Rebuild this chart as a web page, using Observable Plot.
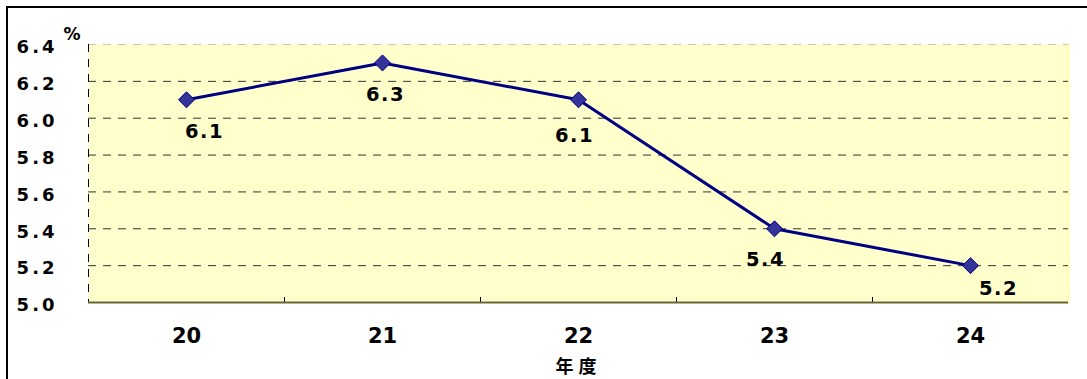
<!DOCTYPE html>
<html>
<head>
<meta charset="utf-8">
<script src="https://cdn.jsdelivr.net/npm/d3@7"></script>
<script src="https://cdn.jsdelivr.net/npm/@observablehq/plot@0.6"></script>
<style>
  html, body { margin: 0; padding: 0; background: #fff; }
  #wrap { position: relative; width: 1087px; height: 379px; overflow: hidden; }
  #border { position: absolute; left: 6px; top: 6px; width: 1100px; height: 400px;
            border-left: 2px solid #000; border-top: 2px solid #000; box-sizing: border-box; pointer-events: none; }
  #chart { position: absolute; left: 0; top: 0; }
</style>
</head>
<body>
<div id="wrap"><div id="chart"></div><div id="border"></div></div>
<script>
// Data
const years = [20, 21, 22, 23, 24];
const values = [6.1, 6.3, 6.1, 5.4, 5.2];
const yTicks = [5.0, 5.2, 5.4, 5.6, 5.8, 6.0, 6.2, 6.4];
const xTitle = "年度";
const yUnit = "%";

// label placement (style only)
const labelOffsets = [[18, 32], [3, 32], [-4, 36], [-9, 31], [28, 23]];

const rows = years.map((y, i) => ({year: y, value: values[i]}));
const bounds = [...years.map(y => y - 0.5), years[years.length - 1] + 0.5];

const numFont = "DejaVu Sans, Liberation Sans, sans-serif";
const textStyle = {fontFamily: numFont, fontWeight: "bold", fill: "#000"};

const plot = Plot.plot({
  width: 1087,
  height: 379,
  marginLeft: 88,
  marginRight: 19,
  marginTop: 44,
  marginBottom: 77,
  style: {fontFamily: numFont, background: "transparent", overflow: "visible"},
  x: {type: "linear", domain: [bounds[0], bounds[bounds.length - 1]]},
  y: {domain: [5.0, 6.4]},
  marks: [
    Plot.frame({fill: "#FFFFCC", stroke: "none"}),
    Plot.frame({anchor: "right", stroke: "#FFFF99", strokeWidth: 1.5}),
    Plot.ruleY(yTicks.slice(1, -1), {stroke: "#333", strokeWidth: 1, strokeDasharray: "8,7"}),
    Plot.ruleY([yTicks[yTicks.length - 1]], {stroke: "#c8c8b0", strokeWidth: 1, strokeDasharray: "8,7"}),
    Plot.ruleX([bounds[0]], {stroke: "#000", strokeWidth: 1, strokeDasharray: "8,7"}),
    Plot.tickX(bounds.slice(1, -1), {stroke: "#000", strokeWidth: 1, insetTop: 253}),
    Plot.ruleY([yTicks[0]], {stroke: "#666633", strokeWidth: 2}),
    Plot.axisY({ticks: yTicks, tickSize: 0, tickPadding: 31, dy: 3, tickFormat: d3.format(".1f"),
      fontSize: 18, fontWeight: "bold", fontFamily: numFont, label: null}),
    Plot.axisX({ticks: years, tickSize: 0, tickPadding: 26, tickFormat: d => String(d),
      fontSize: 21, fontWeight: "bold", fontFamily: numFont, label: null}),
    Plot.text([yUnit], {frameAnchor: "top-left", dx: -25, dy: -17, ...textStyle, fontSize: 17}),
    Plot.text([xTitle], {frameAnchor: "bottom", dy: 70, fontFamily: "Noto Sans CJK JP, sans-serif",
      fontWeight: "bold", fill: "#000", fontSize: 18}),
    Plot.line(rows, {x: "year", y: "value", stroke: "#000080", strokeWidth: 3}),
    Plot.dot(rows, {x: "year", y: "value", symbol: "diamond2", r: 7.2, fill: "#333399", stroke: "#000080", strokeWidth: 1}),
    ...rows.map((r, i) => Plot.text([r], {x: "year", y: "value", text: d => d3.format(".1f")(d.value),
      dx: labelOffsets[i][0], dy: labelOffsets[i][1], ...textStyle, fontSize: 19.5}))
  ]
});
plot.querySelectorAll("text").forEach(t => {
  const s = t.textContent;
  const g = t.closest("g[aria-label]");
  const lab = g ? g.getAttribute("aria-label") : "";
  if (lab.includes("y-axis")) t.style.letterSpacing = "3px";
  else if (/^\d\.\d$/.test(s)) t.style.letterSpacing = "1.5px";
  else if (s === xTitle) t.style.letterSpacing = "5px";
});
document.getElementById("chart").appendChild(plot);
</script>
</body>
</html>
